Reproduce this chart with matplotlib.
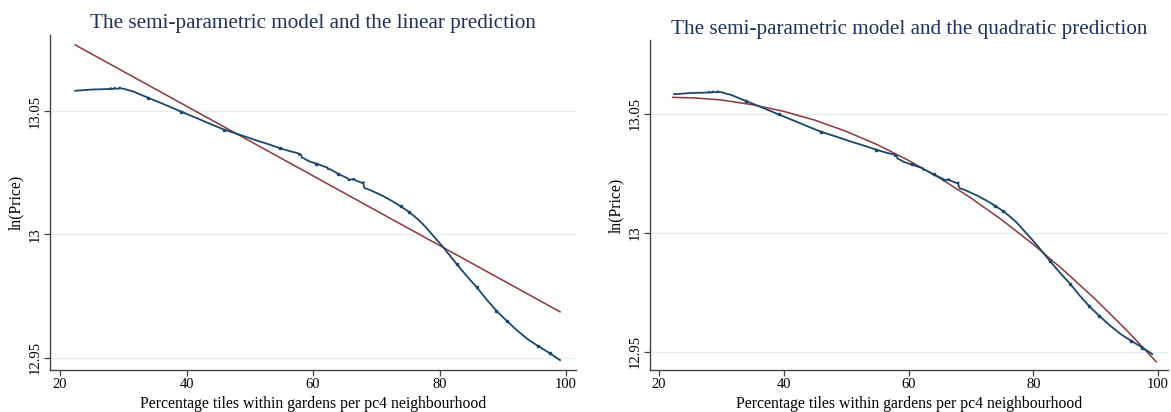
import matplotlib
matplotlib.use("Agg")
import matplotlib.pyplot as plt

plt.rcParams['font.family'] = ['Liberation Serif', 'DejaVu Serif']

# semi-parametric fit of ln(price) on share of tiled gardens
semi_x = [22.4, 25.0, 27.5, 28.0, 28.0, 28.3, 28.6, 28.6, 29.0, 29.4, 29.4, 29.7, 30.2, 30.7,
          31.5, 32.5, 33.9, 36.0, 39.2, 42.0, 44.0, 46.0, 48.5, 50.9, 53.0, 54.8, 56.5, 57.6,
          57.8, 57.8, 58.0, 58.2, 58.2, 58.4, 59.3, 60.5, 62.0, 62.3, 62.3, 62.7, 64.0,
          65.0, 65.6, 65.6, 66.0, 66.4, 66.4, 66.8, 67.3, 67.9, 68.0, 68.0, 68.2, 69.0,
          70.0, 71.1, 72.7, 73.9, 75.1, 76.4, 77.2, 78.0, 78.8, 79.6, 80.6, 81.7, 82.7,
          84.3, 85.9, 87.5, 89.0, 90.6, 92.2, 94.0, 95.6, 97.5, 99.05]
semi_y = [13.0582, 13.0587, 13.0589, 13.0589, 13.0593, 13.0589, 13.0590, 13.0594, 13.0590,
          13.0591, 13.0595, 13.0591, 13.0590, 13.0585, 13.0580, 13.0569, 13.0554, 13.0532,
          13.0497, 13.0467, 13.0445, 13.0424, 13.0403, 13.0382, 13.0365, 13.0349, 13.0336,
          13.0329, 13.0327, 13.0321, 13.0326, 13.0318, 13.0312, 13.0310, 13.0297, 13.0287,
          13.0273, 13.0271, 13.0265, 13.0264, 13.0245, 13.0233, 13.0225, 13.0219, 13.0223,
          13.0221, 13.0226, 13.0218, 13.0213, 13.0207, 13.0212, 13.0198, 13.0187, 13.0180,
          13.0168, 13.0155, 13.0132, 13.0113, 13.0092, 13.0065, 13.0046, 13.0024, 13.0000,
          12.9977, 12.9947, 12.9912, 12.9880, 12.9831, 12.9785, 12.9734, 12.9690, 12.9650,
          12.9612, 12.9574, 12.9547, 12.9517, 12.9490]
# points along the fit that carry a small marker
semi_marks = [16, 18, 21, 25, 35, 40, 57, 58, 66, 68, 70, 71, 74, 75]

# linear prediction (end points)
lin_x = [22.4, 99.05]
lin_y = [13.0768, 12.9686]

# quadratic prediction
quad_x = [22.2, 26, 30, 35, 40, 45, 50, 55, 60, 65, 70, 75, 80, 85, 90, 95, 99.7]
quad_y = [13.0569, 13.0566, 13.0558, 13.0538, 13.0510, 13.0473, 13.0426, 13.0370, 13.0304,
          13.0230, 13.0146, 13.0053, 12.9951, 12.9839, 12.9719, 12.9589, 12.9458]

yticks = [12.95, 13.0, 13.05]
ytick_labels = ['12.95', '13', '13.05']
xticks = [20, 40, 60, 80, 100]

blue = '#1a476f'
red = '#90353b'
title_color = '#1e3060'

fig = plt.figure(figsize=(11.71, 4.12), dpi=100)
ax1 = fig.add_axes([0.0427, 0.1019, 0.4492, 0.8131])
ax2 = fig.add_axes([0.5551, 0.1019, 0.4424, 0.8010])

panels = [
    (ax1, lin_x, lin_y, 'The semi-parametric model and the linear prediction',
     (18.42, 101.58), (12.945, 13.0808), 5),
    (ax2, quad_x, quad_y, 'The semi-parametric model and the quadratic prediction',
     (18.56, 101.6), (12.9423, 13.081), 4),
]

for ax, px, py, title, xl, yl, tpad in panels:
    for t in yticks:
        ax.axhline(t, color='#e4eef0', lw=1.0, zorder=0)
    ax.plot(semi_x, semi_y, color=blue, lw=1.3, zorder=3,
            marker='s', markersize=1.6, markevery=semi_marks)
    ax.plot(px, py, color=red, lw=1.1, zorder=2)
    ax.set_xlim(*xl)
    ax.set_ylim(*yl)
    ax.set_xticks(xticks)
    ax.set_yticks(yticks)
    ax.set_yticklabels(ytick_labels, rotation=90, va='center')
    ax.tick_params(axis='both', direction='out', length=4, width=0.9, color='#444444',
                   labelsize=10.5, pad=2)
    for s in ['top', 'right']:
        ax.spines[s].set_visible(False)
    for s in ['left', 'bottom']:
        ax.spines[s].set_color('#444444')
        ax.spines[s].set_linewidth(1.0)
    ax.set_xlabel('Percentage tiles within gardens per pc4 neighbourhood', fontsize=11.3, labelpad=3.5)
    ax.set_ylabel('ln(Price)', fontsize=11.3, labelpad=3)
    ax.set_title(title, fontsize=15.2, color=title_color, pad=tpad)

fig.savefig('out.png', dpi=100, facecolor='white')
